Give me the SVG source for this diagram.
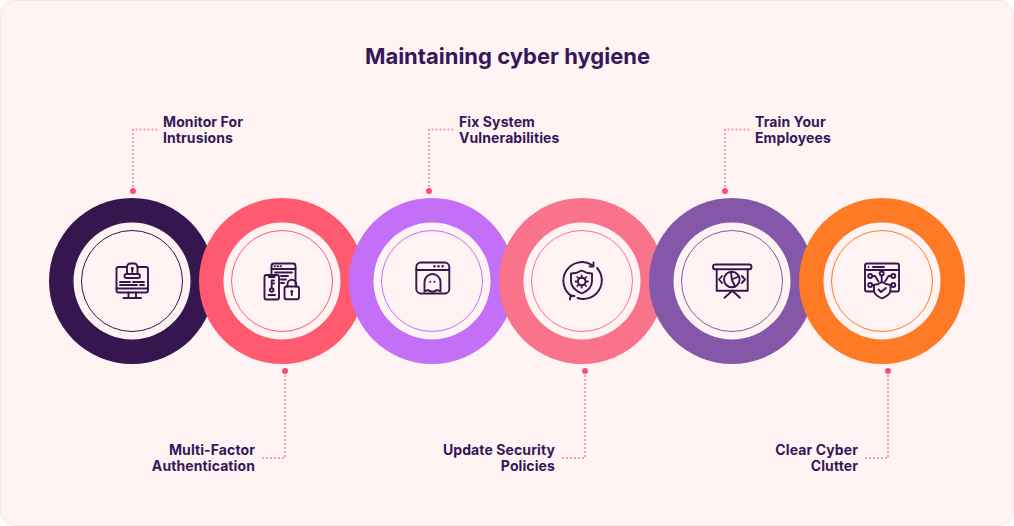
<svg xmlns="http://www.w3.org/2000/svg" width="1014" height="526" viewBox="0 0 1014 526">
<style>
text{font-family:Inter,"Liberation Sans",sans-serif;font-weight:700;fill:#36175a}
.t{font-size:14px;letter-spacing:.1px}
.e{text-anchor:end}
.title{font-size:22px}
.ic{fill:none;stroke:#35164f;stroke-width:1.9;stroke-linecap:round;stroke-linejoin:round}
.fd{fill:#35164f;stroke:none}
.c{fill:none;stroke:#ff9db0;stroke-width:2;stroke-dasharray:2 2}
.d{fill:#ff4d6d}
.w{fill:#fff3f3}
.r{fill:none;stroke-width:1}
</style>
<rect x="0.5" y="0.5" width="1013" height="525" rx="14" fill="#fff3f3" stroke="#f7e6e6"/>
<text class="title" x="507.500" y="64" text-anchor="middle">Maintaining cyber hygiene</text>
<g id="connectors">
<path class="c" d="M133 191V129.500H158"/><circle class="d" cx="133" cy="191" r="3"/>
<path class="c" d="M429 191V129.500H455"/><circle class="d" cx="429" cy="191" r="3"/>
<path class="c" d="M725 191V129.500H750"/><circle class="d" cx="725" cy="191" r="3"/>
<path class="c" d="M285 371V458H260"/><circle class="d" cx="285" cy="371" r="3"/>
<path class="c" d="M585 371V458H560"/><circle class="d" cx="585" cy="371" r="3"/>
<path class="c" d="M888 371V458H863"/><circle class="d" cx="888" cy="371" r="3"/>
</g>
<g id="node-1">
<circle cx="132" cy="281" r="83" fill="#35164f"/><circle class="w" cx="132" cy="281" r="58.500"/><circle class="r" cx="132" cy="281" r="50.500" stroke="#35164f"/>
<g class="ic"><path d="M127 267H118.500a2 2 0 0 0-2 2V290.500a2 2 0 0 0 2 2H146a2 2 0 0 0 2-2V269a2 2 0 0 0-2-2H137.500"/><path d="M116.500 288.500H148M128.500 292.500V298M136 292.500V298M123.500 298H141"/><path d="M127 274V267a3.500 3.500 0 0 1 3.500-3.500H134a3.500 3.500 0 0 1 3.500 3.500V274"/><rect x="124.500" y="274" width="15.500" height="4" rx="2"/><path d="M132.300 268V272"/><path d="M120 282H130M133 282H144M120 285H137M140 285H144"/></g><circle class="fd" cx="132.300" cy="268.500" r="1.400"/>
<text class="t" x="163" y="127">Monitor For</text><text class="t" x="163" y="143">Intrusions</text>
</g>
<g id="node-2">
<circle cx="282" cy="281" r="83" fill="#ff5a70"/><circle class="w" cx="282" cy="281" r="58.500"/><circle class="r" cx="282" cy="281" r="50.500" stroke="#ff5a70"/>
<g class="ic"><path d="M271.500 275V266a2.500 2.500 0 0 1 2.500-2.500H293a2.500 2.500 0 0 1 2.500 2.500V284"/><path d="M271.500 269H295.500M274.500 266.300H275M277.500 266.300H278M280.500 266.300H281M275 272.500H292M281 276H288M281 279.500H286M281 283H284"/><rect x="264.500" y="275" width="14.500" height="24.500" rx="2"/><path d="M269 275.500V277H274.500V275.500"/><circle cx="271.700" cy="290" r="1.800"/><path d="M271.700 288V280.500H274M271.700 283.500H274M268.500 295H275"/><rect x="284.500" y="286.500" width="14.500" height="12.800" rx="2"/><path d="M287.500 286.500V284a4.300 4.300 0 0 1 8.600 0V286.500"/><path d="M291.800 292V295"/></g><circle class="fd" cx="291.800" cy="291.500" r="1.400"/>
<text class="t e" x="255" y="455">Multi-Factor</text><text class="t e" x="255" y="471">Authentication</text>
</g>
<g id="node-3">
<circle cx="432" cy="281" r="83" fill="#c36ff8"/><circle class="w" cx="432" cy="281" r="58.500"/><circle class="r" cx="432" cy="281" r="50.500" stroke="#c36ff8"/>
<g class="ic"><rect x="416.300" y="262.500" width="33" height="31" rx="4.500"/><path d="M416.300 270H449.300"/><path d="M424.500 291.500V282a8 8 0 0 1 16 0V291.500L437.500 290L432.500 292L427.500 290Z"/></g>
<g class="fd"><circle cx="434.500" cy="266.300" r="1.200"/><circle cx="438.500" cy="266.300" r="1.200"/><circle cx="442.700" cy="266.300" r="1.200"/><circle cx="430.200" cy="281.700" r="1"/><circle cx="434.500" cy="281.700" r="1"/></g>
<text class="t" x="459" y="127">Fix System</text><text class="t" x="459" y="143">Vulnerabilities</text>
</g>
<g id="node-4">
<circle cx="582" cy="281" r="83" fill="#f9738a"/><circle class="w" cx="582" cy="281" r="58.500"/><circle class="r" cx="582" cy="281" r="50.500" stroke="#f9738a"/>
<g class="ic"><path d="M572 296.500A18.500 18.500 0 0 1 592 265"/><path d="M597 268A18.500 18.500 0 0 1 577.500 298"/><path d="M593.500 262.500V266.500H589.500M570 299.500L570.500 295.500L574.500 296"/><path d="M581.700 270.500C585 272.500 589 273.500 592 273.500V281C592 287 587.500 291 581.700 293.500C576 291 571 287 571 281V273.500C575 273.500 578.500 272.500 581.700 270.500Z"/><circle cx="581.700" cy="281.500" r="3.800" stroke-width="2"/><path d="M581.700 275.300V277M581.700 286V287.700M575.500 281.500H577.500M586 281.500H588M577.300 277L578.700 278.500M586.100 277L584.700 278.500M577.300 286L578.700 284.500M586.100 286L584.700 284.500" stroke-width="1.800"/></g>
<text class="t e" x="555" y="455">Update Security</text><text class="t e" x="555" y="471">Policies</text>
</g>
<g id="node-5">
<circle cx="732" cy="281" r="83" fill="#8457a9"/><circle class="w" cx="732" cy="281" r="58.500"/><circle class="r" cx="732" cy="281" r="50.500" stroke="#8457a9"/>
<g class="ic"><rect x="713" y="264.500" width="38.500" height="4.800" rx="2.400"/><path d="M716.700 269.300V290.700H747.700V269.300"/><path d="M732.300 290.700L724.500 297.700M732.300 290.700L740 297.700"/><circle cx="731.800" cy="279.500" r="7.800"/><path d="M731.800 279.500L731 271.800M731.800 279.500L738.800 276.500M731.800 279.500L735 286.500"/><path d="M722 276L719 279.500L722 283M741.800 276L745 279.500L741.800 283"/></g>
<text class="t" x="755" y="127">Train Your</text><text class="t" x="755" y="143">Employees</text>
</g>
<g id="node-6">
<circle cx="882" cy="281" r="83" fill="#ff7a25"/><circle class="w" cx="882" cy="281" r="58.500"/><circle class="r" cx="882" cy="281" r="50.500" stroke="#ff7a25"/>
<g class="ic"><path d="M874 291.500H867a2 2 0 0 1-2-2V265.500a2 2 0 0 1 2-2H897a2 2 0 0 1 2 2V289.500a2 2 0 0 1-2 2H890"/><path d="M865 270H899M873 267H884"/><path d="M882 282C885 284 888 285 890.500 285V290.500C890.500 294 886.500 296.500 882 298.500C877.500 296.500 874 294 874 290.500V285C876.500 285 879 284 882 282Z"/><path d="M878.500 289.500L881 292L886 288"/><circle cx="881.700" cy="273.500" r="2"/><circle cx="870.200" cy="276" r="2"/><circle cx="870.200" cy="285" r="2"/><circle cx="893.300" cy="276" r="2"/><circle cx="893.300" cy="285" r="2"/><path d="M881.700 275.500V282M872.200 276H875L878.500 281.500M872.200 285H874M891.300 276H888.500L885 281.500M891.300 285H890.500"/></g><circle class="fd" cx="868.500" cy="267" r="0.900"/>
<text class="t e" x="858" y="455">Clear Cyber</text><text class="t e" x="858" y="471">Clutter</text>
</g>
</svg>
